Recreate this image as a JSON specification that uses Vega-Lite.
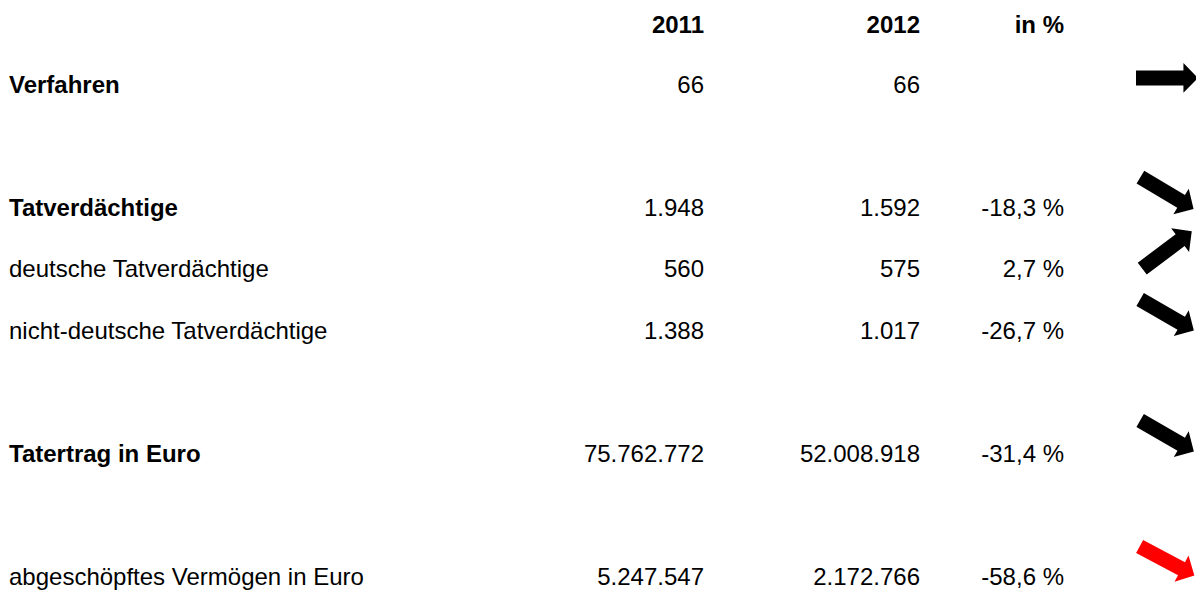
{
  "$schema": "https://vega.github.io/schema/vega-lite/v6.json",
  "autosize": {"type": "fit", "contains": "padding"},
  "width": 1196,
  "height": 591,
  "padding": 0,
  "background": "white",
  "config": {"view": {"stroke": null}},
  "datasets": {
    "cells": [
      {"row": 0.024, "col": 1, "text": "2011", "kind": "header"},
      {"row": 0.024, "col": 2, "text": "2012", "kind": "header"},
      {"row": 0.024, "col": 3, "text": "in %", "kind": "header"},
      {"row": 1, "col": 0, "text": "Verfahren", "kind": "main"},
      {"row": 1, "col": 1, "text": "66", "kind": "value"},
      {"row": 1, "col": 2, "text": "66", "kind": "value"},
      {"row": 3, "col": 0, "text": "Tatverdächtige", "kind": "main"},
      {"row": 3, "col": 1, "text": "1.948", "kind": "value"},
      {"row": 3, "col": 2, "text": "1.592", "kind": "value"},
      {"row": 3, "col": 3, "text": "-18,3 %", "kind": "value"},
      {"row": 4, "col": 0, "text": "deutsche Tatverdächtige", "kind": "sub"},
      {"row": 4, "col": 1, "text": "560", "kind": "value"},
      {"row": 4, "col": 2, "text": "575", "kind": "value"},
      {"row": 4, "col": 3, "text": "2,7 %", "kind": "value"},
      {"row": 5, "col": 0, "text": "nicht-deutsche Tatverdächtige", "kind": "sub"},
      {"row": 5, "col": 1, "text": "1.388", "kind": "value"},
      {"row": 5, "col": 2, "text": "1.017", "kind": "value"},
      {"row": 5, "col": 3, "text": "-26,7 %", "kind": "value"},
      {"row": 7, "col": 0, "text": "Tatertrag in Euro", "kind": "main"},
      {"row": 7, "col": 1, "text": "75.762.772", "kind": "value"},
      {"row": 7, "col": 2, "text": "52.008.918", "kind": "value"},
      {"row": 7, "col": 3, "text": "-31,4 %", "kind": "value"},
      {"row": 9, "col": 0, "text": "abgeschöpftes Vermögen in Euro", "kind": "sub"},
      {"row": 9, "col": 1, "text": "5.247.547", "kind": "value"},
      {"row": 9, "col": 2, "text": "2.172.766", "kind": "value"},
      {"row": 9, "col": 3, "text": "-58,6 %", "kind": "value"}
    ],
    "arrows": [
      {"row": 0.756, "col": 4, "trend": "gleich", "direction": 0, "highlight": "no"},
      {"row": 2.626, "col": 4, "trend": "sinkend", "direction": 31, "highlight": "no"},
      {"row": 3.553, "col": 4, "trend": "steigend", "direction": -37, "highlight": "no"},
      {"row": 4.61, "col": 4, "trend": "sinkend", "direction": 30, "highlight": "no"},
      {"row": 6.577, "col": 4, "trend": "sinkend", "direction": 30, "highlight": "no"},
      {"row": 8.61, "col": 4, "trend": "sinkend", "direction": 28, "highlight": "yes"}
    ]
  },
  "encoding": {
    "x": {"field": "col", "type": "quantitative", "axis": null,
      "scale": {"domain": [0, 1, 2, 3, 4], "range": [9, 704, 920, 1064, 1167], "nice": false, "zero": false}},
    "y": {"field": "row", "type": "quantitative", "axis": null,
      "scale": {"domain": [-0.512, 9.0976], "reverse": true, "nice": false, "zero": false}}
  },
  "layer": [
    {
      "data": {"name": "cells"},
      "transform": [{"filter": "datum.col == 0 && datum.kind == 'main'"}],
      "mark": {"type": "text", "align": "left", "baseline": "alphabetic", "font": "Liberation Sans", "fontSize": 24, "fontWeight": "bold", "color": "black"},
      "encoding": {"text": {"field": "text"}}
    },
    {
      "data": {"name": "cells"},
      "transform": [{"filter": "datum.col == 0 && datum.kind == 'sub'"}],
      "mark": {"type": "text", "align": "left", "baseline": "alphabetic", "font": "Liberation Sans", "fontSize": 24, "fontWeight": "normal", "color": "black"},
      "encoding": {"text": {"field": "text"}}
    },
    {
      "data": {"name": "cells"},
      "transform": [{"filter": "datum.kind == 'header'"}],
      "mark": {"type": "text", "align": "right", "baseline": "alphabetic", "font": "Liberation Sans", "fontSize": 24, "fontWeight": "bold", "color": "black"},
      "encoding": {"text": {"field": "text"}}
    },
    {
      "data": {"name": "cells"},
      "transform": [{"filter": "datum.kind == 'value'"}],
      "mark": {"type": "text", "align": "right", "baseline": "alphabetic", "font": "Liberation Sans", "fontSize": 24, "fontWeight": "normal", "color": "black"},
      "encoding": {"text": {"field": "text"}}
    },
    {
      "data": {"name": "arrows"},
      "mark": {"type": "point", "filled": true, "opacity": 1, "strokeWidth": 0,
        "shape": "M-1,-0.24L0.53,-0.24L0.53,-0.48L1,0L0.53,0.48L0.53,0.24L-1,0.24Z", "size": 3844},
      "encoding": {
        "angle": {"field": "direction", "type": "quantitative", "scale": null},
        "color": {"field": "highlight", "type": "nominal", "legend": null,
          "scale": {"domain": ["no", "yes"], "range": ["#000000", "#ff0000"]}},
        "tooltip": {"field": "trend"}
      }
    }
  ]
}
